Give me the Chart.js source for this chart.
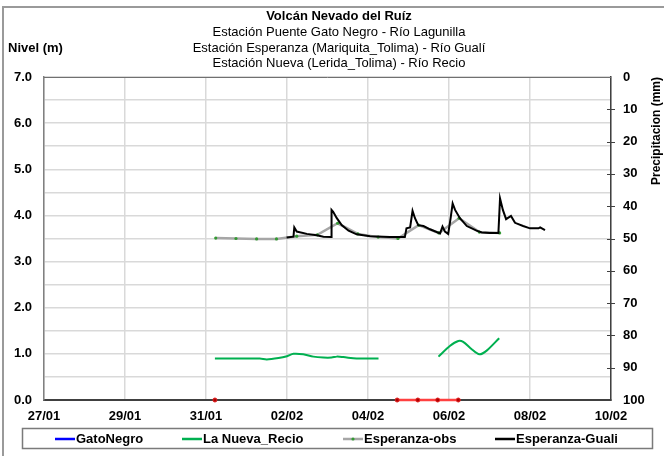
<!DOCTYPE html>
<html>
<head>
<meta charset="utf-8">
<script src="https://cdn.jsdelivr.net/npm/chart.js@4"></script>
<style>
  html, body { margin: 0; padding: 0; background: #fff; }
  canvas { display: block; }
</style>
</head>
<body>
<canvas id="nivelChart" width="664" height="456"></canvas>
<script>
// Eje X: días desde 27/01
const tickLabels = ["27/01", "29/01", "31/01", "02/02", "04/02", "06/02", "08/02", "10/02"];

// Esperanza-Guali (modelo)
const gualiDays = [5.99, 6.16, 6.18, 6.24, 6.49, 6.73, 6.90, 7.09, 7.10, 7.14, 7.23, 7.35, 7.52, 7.72, 8.05, 8.54, 8.91, 8.95, 9.04, 9.10, 9.16, 9.24, 9.37, 9.53, 9.78, 9.84, 9.90, 9.98, 10.04, 10.09, 10.15, 10.27, 10.44, 10.68, 10.81, 11.00, 11.22, 11.26, 11.33, 11.41, 11.53, 11.63, 11.83, 12.00, 12.21, 12.25, 12.37];
const gualiVals = [3.52, 3.54, 3.74, 3.65, 3.60, 3.57, 3.54, 3.53, 4.12, 4.08, 3.94, 3.79, 3.67, 3.59, 3.55, 3.53, 3.53, 3.72, 3.74, 4.10, 3.94, 3.79, 3.77, 3.70, 3.61, 3.76, 3.65, 3.60, 3.94, 4.26, 4.12, 3.94, 3.77, 3.67, 3.63, 3.62, 3.62, 4.37, 4.12, 3.92, 3.99, 3.84, 3.77, 3.72, 3.72, 3.74, 3.68];

// Esperanza-obs
const obsDays = [4.24, 4.74, 5.25, 5.74, 6.24, 6.75, 7.25, 7.75, 8.25, 8.74, 9.25, 9.75, 10.25, 10.75, 11.25];
const obsVals = [3.51, 3.50, 3.49, 3.49, 3.55, 3.58, 3.83, 3.60, 3.53, 3.50, 3.79, 3.62, 3.94, 3.64, 3.62];

// La Nueva_Recio
const recioDays = [4.22, 5.33, 5.50, 5.79, 6.00, 6.16, 6.40, 6.65, 6.90, 7.10, 7.23, 7.39, 7.72, 8.26, 9.00, 9.74, 10.02, 10.23, 10.35, 10.56, 10.75, 10.93, 11.24];
const recioVals = [0.90, 0.90, 0.88, 0.91, 0.95, 1.00, 0.99, 0.94, 0.92, 0.92, 0.94, 0.93, 0.90, 0.90, null, 0.94, 1.17, 1.28, 1.26, 1.10, 0.99, 1.07, 1.34];

// Precipitación
const lluviaDays = [4.22, 6.50, 8.72, 9.23, 9.72, 10.23];
const lluviaVals = [0, null, 0, 0, 0, 0];

// GatoNegro (sin datos)
const gatoDays = [];
const gatoVals = [];

const toPoints = (xs, ys) => xs.map((x, i) => ({ x: x, y: ys[i] }));

const FONT = "'Liberation Sans', Arial, sans-serif";

const decor = {
    id: "decor",
    beforeDraw(chart) {
        const ctx = chart.ctx;
        ctx.save();
        ctx.fillStyle = "#fff";
        ctx.fillRect(0, 0, chart.width, chart.height);
        ctx.restore();
    },
    afterDraw(chart) {
        const ctx = chart.ctx;
        const a = chart.chartArea;
        const y2 = chart.scales.y2;
        ctx.save();
        // marco exterior
        ctx.strokeStyle = "#9a9a9a";
        ctx.lineWidth = 2;
        ctx.beginPath();
        ctx.moveTo(3, chart.height);
        ctx.lineTo(3, 7);
        ctx.lineTo(chart.width, 7);
        ctx.stroke();

        // borde superior del área
        ctx.strokeStyle = "#707070";
        ctx.lineWidth = 1;
        ctx.beginPath();
        ctx.moveTo(a.left, a.top + 0.5);
        ctx.lineTo(a.right, a.top + 0.5);
        ctx.stroke();

        // marcas del eje derecho
        ctx.strokeStyle = "#404040";
        for (let v = 10; v < 100; v += 10) {
            const yy = Math.round(y2.getPixelForValue(v)) + 0.5;
            ctx.beginPath();
            ctx.moveTo(a.right - 4, yy);
            ctx.lineTo(a.right + 4, yy);
            ctx.stroke();
        }

        // títulos
        ctx.fillStyle = "#000";
        ctx.textAlign = "center";
        ctx.textBaseline = "middle";
        ctx.font = "bold 13px " + FONT;
        ctx.fillText("Volcán Nevado del Ruíz", 339, 16);
        ctx.font = "13px " + FONT;
        ctx.fillText("Estación Puente Gato Negro - Río Lagunilla", 339, 32);
        ctx.fillText("Estación Esperanza (Mariquita_Tolima) - Río Gualí", 339, 48);
        ctx.fillText("Estación Nueva (Lerida_Tolima) - Río Recio", 339, 63);

        ctx.font = "bold 13px " + FONT;
        ctx.textAlign = "left";
        ctx.fillText("Nivel (m)", 8, 48);

        ctx.save();
        ctx.translate(657, 131);
        ctx.rotate(-Math.PI / 2);
        ctx.textAlign = "center";
        ctx.font = "bold 12px " + FONT;
        ctx.fillText("Precipitacion (mm)", 0, 0);
        ctx.restore();

        // leyenda
        ctx.strokeStyle = "#7a7a7a";
        ctx.lineWidth = 1.5;
        ctx.strokeRect(22.5, 428.5, 630, 20);
        const items = [
            { text: "GatoNegro", color: "#0000ff", x: 55, dot: false },
            { text: "La Nueva_Recio", color: "#00b050", x: 182, dot: false },
            { text: "Esperanza-obs", color: "#a6a6a6", x: 343, dot: true },
            { text: "Esperanza-Guali", color: "#000000", x: 495, dot: false }
        ];
        ctx.font = "bold 13px " + FONT;
        ctx.textAlign = "left";
        items.forEach(it => {
            ctx.strokeStyle = it.color;
            ctx.lineWidth = 2.5;
            ctx.beginPath();
            ctx.moveTo(it.x, 439);
            ctx.lineTo(it.x + 20, 439);
            ctx.stroke();
            if (it.dot) {
                ctx.fillStyle = "#339933";
                ctx.beginPath();
                ctx.arc(it.x + 10, 439, 1.6, 0, Math.PI * 2);
                ctx.fill();
            }
            ctx.fillStyle = "#000";
            ctx.fillText(it.text, it.x + 21, 439);
        });
        ctx.restore();
    }
};

const tickFont = { family: FONT, size: 13, weight: "bold" };

new Chart(document.getElementById("nivelChart"), {
    type: "line",
    data: {
        datasets: [
            { label: "Precipitacion", data: toPoints(lluviaDays, lluviaVals), borderColor: "#ff4040", borderWidth: 2.5, pointRadius: 2, pointBackgroundColor: "#b00000", pointBorderColor: "#e02020", pointBorderWidth: 1, clip: false, spanGaps: false, order: 0, yAxisID: "y" },
            { label: "Esperanza-Guali", data: toPoints(gualiDays, gualiVals), borderColor: "#000", borderWidth: 2, pointRadius: 0, tension: 0, order: 1, yAxisID: "y" },
            { label: "Esperanza-obs", data: toPoints(obsDays, obsVals), borderColor: "#a6a6a6", borderWidth: 2.5, pointRadius: 1.6, pointBackgroundColor: "#339933", pointBorderWidth: 0, tension: 0, order: 2, yAxisID: "y" },
            { label: "La Nueva_Recio", data: toPoints(recioDays, recioVals), borderColor: "#00b050", borderWidth: 2, pointRadius: 0, tension: 0.3, spanGaps: false, order: 3, yAxisID: "y" },
            { label: "GatoNegro", data: toPoints(gatoDays, gatoVals), borderColor: "#0000ff", borderWidth: 2, pointRadius: 0, order: 4, yAxisID: "y" }
        ]
    },
    options: {
        responsive: false,
        animation: false,
        devicePixelRatio: 1,
        layout: { padding: { top: 77, left: 0, right: 0, bottom: 0 } },
        plugins: { legend: { display: false }, title: { display: false }, tooltip: { enabled: false } },
        scales: {
            x: {
                type: "linear", position: "bottom", min: 0, max: 14,
                ticks: { stepSize: 2, autoSkip: false, maxRotation: 0, color: "#000", font: tickFont, padding: 9,
                    callback: v => tickLabels[Math.round(v / 2)] },
                grid: { color: "#d9d9d9", lineWidth: 1.5, drawTicks: false },
                border: { color: "#404040", width: 2 },
                afterFit: s => { s.height = 56; }
            },
            y: {
                position: "left", min: 0, max: 7,
                ticks: { stepSize: 0.5, autoSkip: false, color: "#000", font: tickFont, padding: 12,
                    callback: v => (Math.abs(v % 1) < 1e-6 ? v.toFixed(1) : "") },
                grid: { color: "#d9d9d9", lineWidth: 1.5, drawTicks: false },
                border: { color: "#808080", width: 1.5 },
                afterFit: s => { s.width = 44; }
            },
            y2: {
                position: "right", reverse: true, min: 0, max: 100,
                ticks: { stepSize: 10, color: "#000", font: tickFont, padding: 12 },
                grid: { drawOnChartArea: false, drawTicks: false },
                border: { color: "#404040", width: 1.5 },
                afterFit: s => { s.width = 53; }
            }
        }
    },
    plugins: [decor]
});
</script>
</body>
</html>
